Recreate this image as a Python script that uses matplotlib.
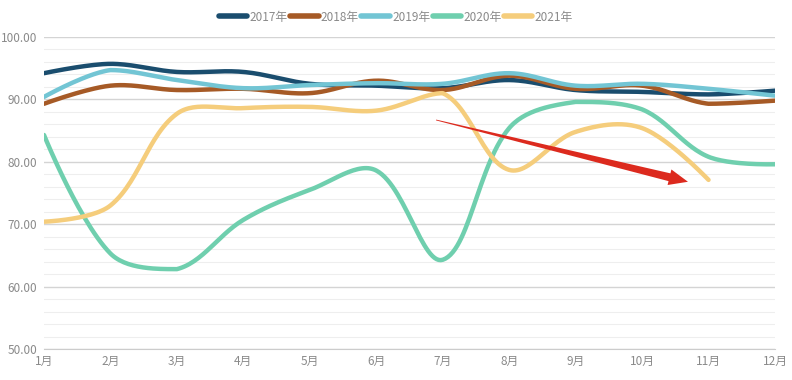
import numpy as np
import matplotlib
matplotlib.use('Agg')
import matplotlib.pyplot as plt
from matplotlib.patches import Polygon

plt.rcParams['font.family'] = ['Noto Sans CJK SC', 'DejaVu Sans']

months = ['1月', '2月', '3月', '4月', '5月', '6月', '7月', '8月', '9月', '10月', '11月', '12月']
years = ['2017年', '2018年', '2019年', '2020年', '2021年']
v2017 = [94.2, 95.7, 94.4, 94.4, 92.5, 92.2, 91.8, 93.1, 91.5, 91.2, 90.8, 91.4]
v2018 = [89.3, 92.2, 91.5, 91.7, 91.0, 93.0, 91.5, 93.8, 91.7, 92.2, 89.3, 89.8]
v2019 = [90.4, 94.7, 93.1, 91.8, 92.3, 92.6, 92.5, 94.2, 92.2, 92.5, 91.7, 90.6]
v2020 = [84.3, 65.3, 62.8, 70.7, 75.5, 78.6, 64.3, 85.4, 89.6, 88.4, 80.8, 79.6]
v2021 = [70.4, 73.0, 87.7, 88.6, 88.8, 88.2, 91.0, 78.7, 84.8, 85.4, 77.1]
colors = ['#1a4d6e', '#a65a26', '#72c5d4', '#6fcfae', '#f5cd7c']

# pixels per unit, used for the smoothing and the arrow
SX = 66.45
SY = 6.25


def smooth(y, s=0.35, n=30):
    # echarts-like bezier smoothing in pixel space, control points kept inside the data box
    px = np.arange(1, len(y) + 1) * SX
    py = np.asarray(y, dtype=float) * SY
    lo = np.array([px.min(), py.min()])
    hi = np.array([px.max(), py.max()])
    xs, ys = [px[0]], [py[0]]
    cp0 = np.array([px[0], py[0]])
    t = np.linspace(0, 1, n)[1:]
    for k in range(1, len(px)):
        p = np.array([px[k], py[k]])
        prev = np.array([px[k - 1], py[k - 1]])
        if k == len(px) - 1:
            cp1 = p.copy()
            v = np.zeros(2)
            r = 0.5
        else:
            nxt = np.array([px[k + 1], py[k + 1]])
            v = nxt - prev
            l0 = np.linalg.norm(p - prev)
            l1 = np.linalg.norm(nxt - p)
            r = l1 / (l0 + l1)
            cp1 = p - v * s * (1 - r)
        cp0 = np.clip(cp0, lo, hi)
        cp1 = np.clip(cp1, lo, hi)
        bx = (1 - t)**3 * prev[0] + 3 * t * (1 - t)**2 * cp0[0] + 3 * t**2 * (1 - t) * cp1[0] + t**3 * p[0]
        by = (1 - t)**3 * prev[1] + 3 * t * (1 - t)**2 * cp0[1] + 3 * t**2 * (1 - t) * cp1[1] + t**3 * p[1]
        xs.extend(bx)
        ys.extend(by)
        cp0 = p + v * s * r
    return np.array(xs) / SX, np.array(ys) / SY


fig = plt.figure(figsize=(7.92, 3.8), dpi=100)
ax = fig.add_axes([44 / 792, 1 - 349 / 380, (775 - 44) / 792, (349 - 37) / 380])

for vals, c, lab in zip([v2017, v2018, v2019, v2020, v2021], colors, years):
    xs, ys = smooth(vals)
    ax.plot(xs, ys, color=c, lw=3.2, label=lab, solid_capstyle='round', zorder=3)

ax.set_xlim(1, 12)
ax.set_ylim(50, 100)
ax.set_xticks(range(1, 13))
ax.set_xticklabels(months)
ax.set_yticks(range(50, 101, 10))
ax.set_yticklabels(['%.2f' % v for v in range(50, 101, 10)])
ax.set_yticks(range(50, 101, 2), minor=True)
ax.grid(axis='y', which='major', color='#d4d4d4', lw=1)
ax.grid(axis='y', which='minor', color='#eeeeee', lw=0.8)
ax.set_axisbelow(True)
for s in ['left', 'right', 'top']:
    ax.spines[s].set_visible(False)
ax.spines['bottom'].set_color('#cccccc')
ax.tick_params(axis='both', which='both', length=0, colors='#8a8a8a', labelsize=8.5)
ax.tick_params(axis='x', pad=4)
ax.tick_params(axis='y', pad=5)

# red tapered arrow
x0, y0, x1, y1 = 6.9, 86.7, 10.69, 76.8
p0 = np.array([x0 * SX, y0 * SY])
p1 = np.array([x1 * SX, y1 * SY])
d = (p1 - p0) / np.linalg.norm(p1 - p0)
nrm = np.array([-d[1], d[0]])
hl, hw, tw = 19, 8, 4
base = p1 - d * hl
pts = [p0 + nrm * 0.4, base + nrm * tw, base + nrm * hw, p1, base - nrm * hw, base - nrm * tw, p0 - nrm * 0.4]
pts = [(p[0] / SX, p[1] / SY) for p in pts]
ax.add_patch(Polygon(pts, closed=True, color='#dc2a1e', zorder=4, lw=0))

leg = fig.legend(loc='upper center', bbox_to_anchor=(0.5, 1.0), ncol=5, frameon=False,
                 fontsize=8.5, handlelength=2.4, handletextpad=0.2, columnspacing=0.2,
                 labelcolor='#8a8a8a')
for h in leg.get_lines():
    h.set_linewidth(4)

fig.savefig('out.png', dpi=100)
